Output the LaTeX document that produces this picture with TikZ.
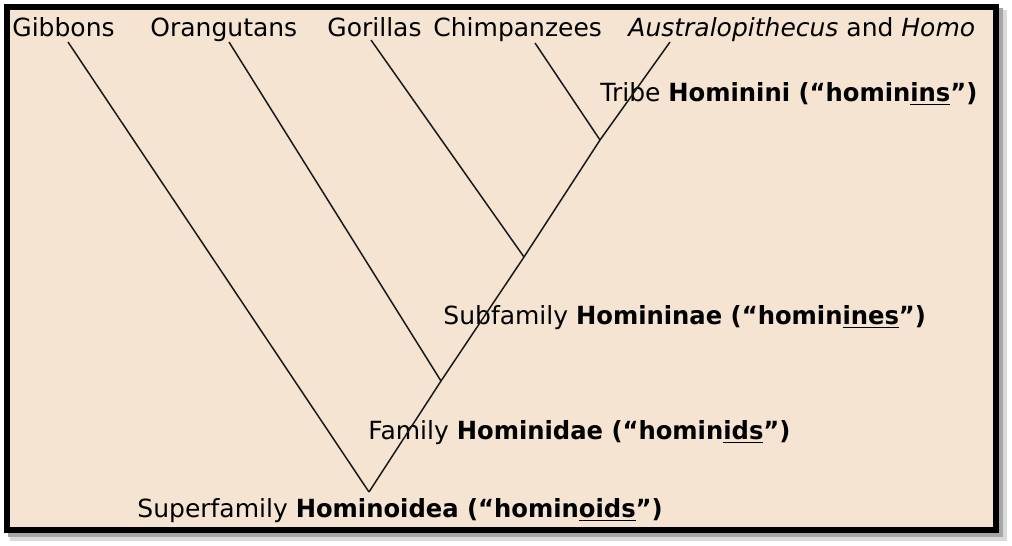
\documentclass[tikz,border=0pt]{standalone}
\usepackage{fontspec}
\setmainfont{DejaVu Sans}[BoldFeatures={FakeStretch=0.97}]
\usepackage{xcolor}
\definecolor{paper}{HTML}{F5E4D2}

\begin{document}
\begin{tikzpicture}[x=0.5pt,y=-0.5pt,font=\fontsize{12.5}{15}\selectfont]
    \tikzstyle{branch}=[draw=black!90, line width=0.75pt]
    \tikzstyle{taxon}=[anchor=base west, inner sep=0pt]
    \tikzstyle{rank}=[anchor=base west, inner sep=0pt]

    \useasboundingbox (0,0) rectangle (1012,546);
    % frame with a soft shadow
    \fill[black!15] (10,10) rectangle (1007,541);
    \fill[black!35] (8,8) rectangle (1003,537);
    \filldraw[fill=paper, draw=black, line width=3pt] (7,7) rectangle (996,530);

    \node[taxon] (gib) at (12,36) {Gibbons};
    \node[taxon] (ora) at (150,36) {Orangutans};
    \node[taxon] (gor) at (327,36) {Gorillas};
    \node[taxon] (chi) at (433,36) {Chimpanzees};
    \node[taxon] (hom) at (628,36) {\textit{Australopithecus} and \textit{Homo}};

    \coordinate (gib-tip) at (68,42);
    \coordinate (ora-tip) at (229,42);
    \coordinate (gor-tip) at (371,40);
    \coordinate (chi-tip) at (535,43);
    \coordinate (hom-tip) at (670,42);

    \coordinate (superfam) at (369,492);
    \coordinate (fam) at (441,381);
    \coordinate (subfam) at (524,257);
    \coordinate (tribe) at (600,140);

    \node[rank] (tribe-lbl) at (600,101) {Tribe \textbf{Hominini (“homin\underline{ins}”)}};
    \node[rank] (subfam-lbl) at (443,324) {Subfamily \textbf{Homininae (“homin\underline{ines}”)}};
    \node[rank] (fam-lbl) at (368,439) {Family \textbf{Hominidae (“homin\underline{ids}”)}};
    \node[rank] (superfam-lbl) at (137,517) {Superfamily \textbf{Hominoidea (“homin\underline{oids}”)}};

    \draw[branch] (gib-tip) -- (superfam);
    \draw[branch] (ora-tip) -- (fam);
    \draw[branch] (gor-tip) -- (subfam);
    \draw[branch] (chi-tip) -- (tribe);
    \draw[branch] (hom-tip) -- (tribe) -- (subfam) -- (fam) -- (superfam);
\end{tikzpicture}
\end{document}
